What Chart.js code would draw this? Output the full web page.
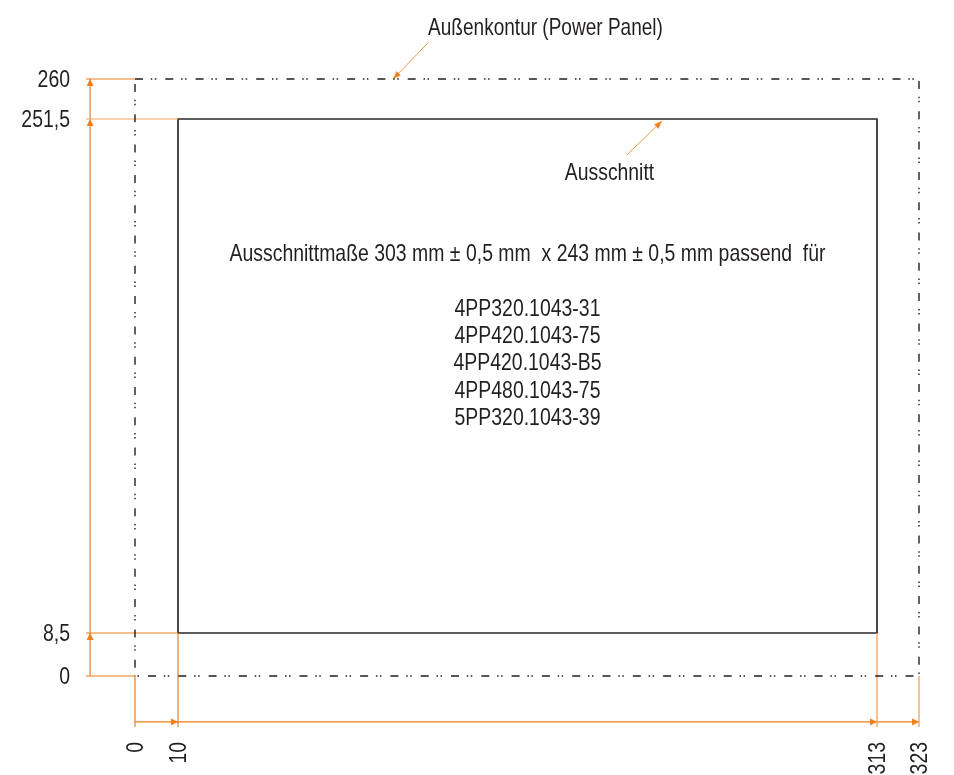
<!DOCTYPE html>
<html>
<head>
<meta charset="utf-8">
<title>Ausschnitt</title>
<script src="https://cdn.jsdelivr.net/npm/chart.js@4"></script>
<style>
  html, body { margin: 0; padding: 0; background: #fff; overflow: hidden; }
  canvas { display: block; }
</style>
</head>
<body>
<canvas id="drawing" width="954" height="775"></canvas>
<script>
// dimensions from the drawing (mm)
var xTicks = [0, 10, 313, 323];
var yTicks = [0, 8.5, 251.5, 260];

var outerTop = [[0, 260], [323, 260]];
var outerLeft = [[0, 260], [0, 0]];
var outerRight = [[323, 260], [323, 0]];
var outerBottom = [[0, 0], [323, 0]];
var cutout = [[10, 8.5], [313, 8.5], [313, 251.5], [10, 251.5], [10, 8.5]];

// dimension lines sit outside the panel
var dimX = -11;
var dimY = -10.8;
var extEnd = -12;

var leaderOuter = [[118.4, 267.7], [103.2, 260]];
var leaderCutout = [[204.6, 234.5], [219.8, 250.6]];

var topLabel = "Außenkontur (Power Panel)";
var cutoutLabel = "Ausschnitt";
var sizeNote = "Ausschnittmaße 303 mm ± 0,5 mm  x 243 mm ± 0,5 mm passend  für";
var partNumbers = ["4PP320.1043-31", "4PP420.1043-75", "4PP420.1043-B5", "4PP480.1043-75", "5PP320.1043-39"];

// the drawing is not to scale, so each axis is a chain of stretches
var xStops = [-12, 0, 10, 313, 323, 337];
var xWeights = [49, 43, 699, 42, 35];
var yStops = [-12, 0, 8.5, 251.5, 260, 276.8];
var yWeights = [51, 43, 514, 40, 79];

var ORANGE = "#ee7f1a";
var PALE = "#f4a765";
var INK = "#231f20";
var FONT = "'Liberation Sans'";
var SQUEEZE = 0.81; // the original face is a narrow Helvetica

class DrawingScale extends Chart.LinearScale {
  getPixelForValue(value) {
    var stops = this.axis === "x" ? xStops : yStops;
    var weights = this.axis === "x" ? xWeights : yWeights;
    var total = weights.reduce(function (a, b) { return a + b; }, 0);
    var done = 0;
    for (var i = 0; i < weights.length; i++) {
      if (value <= stops[i + 1] || i === weights.length - 1) {
        done += weights[i] * (value - stops[i]) / (stops[i + 1] - stops[i]);
        break;
      }
      done += weights[i];
    }
    return this.getPixelForDecimal(done / total);
  }
  // no clip, it would be squeezed along with the labels
  _computeLabelArea() {
    return null;
  }
  // squeeze the labels along their reading direction, anchored where they start
  drawLabels(area) {
    var g = this.ctx;
    g.save();
    if (this.axis === "x") {
      var top = this.top + this.options.ticks.padding;
      g.translate(1, top);
      g.scale(1, SQUEEZE);
      g.translate(0, -top);
    } else {
      var right = this.right - this.options.ticks.padding;
      g.translate(right, 1.5);
      g.scale(SQUEEZE, 1);
      g.translate(-right, 0);
    }
    super.drawLabels(area);
    g.restore();
  }
}
DrawingScale.id = "drawing";
DrawingScale.defaults = Chart.LinearScale.defaults;
Chart.register(DrawingScale);

// arrow head with its tip in the middle of the image, so the point sits on the tip
function arrowHead(w, h) {
  var c = document.createElement("canvas");
  c.width = 2 * Math.ceil(h);
  c.height = 2 * Math.ceil(h);
  var g = c.getContext("2d");
  var mid = c.width / 2;
  g.fillStyle = ORANGE;
  g.beginPath();
  g.moveTo(mid, mid);
  g.lineTo(mid + w / 2, mid + h);
  g.lineTo(mid - w / 2, mid + h);
  g.closePath();
  g.fill();
  return c;
}
var bigHead = arrowHead(7, 7);
var smallHead = arrowHead(6, 8);

function pts(list) {
  return list.map(function (p) { return { x: p[0], y: p[1] }; });
}
function line(list, color, width, dash, offset) {
  return {
    data: pts(list), showLine: true, clip: false, pointRadius: 0, fill: false,
    borderColor: color, borderWidth: width,
    borderDash: dash || [], borderDashOffset: offset || 0, borderCapStyle: "butt"
  };
}
function heads(list, image, rotation) {
  return {
    data: pts(list), showLine: false, clip: false, pointRadius: 4,
    pointStyle: image, pointRotation: rotation
  };
}

var chain = [8, 7.8, 1.5, 2.5, 1.5, 9];

var datasets = [
  line(outerTop, INK, 1.4, chain, 0),
  line(outerLeft, INK, 1.4, chain, 25.3),
  line(outerRight, INK, 1.4, chain, 28.3),
  line(outerBottom, INK, 1.4, chain, 17.3),

  // extension lines
  line([[extEnd, 260], [0, 260]], ORANGE, 1.2),
  line([[extEnd, 251.5], [10, 251.5]], PALE, 1.2),
  line([[extEnd, 8.5], [10, 8.5]], ORANGE, 1.2),
  line([[extEnd, 0], [0, 0]], ORANGE, 1.2),
  line([[0, 0], [0, extEnd]], ORANGE, 1.2),
  line([[10, 8.5], [10, extEnd]], ORANGE, 1.2),
  line([[313, 8.5], [313, extEnd]], PALE, 1.4),
  line([[323, 0], [323, extEnd]], PALE, 1.4),

  // dimension lines
  line([[dimX, 0], [dimX, 260]], ORANGE, 1.2),
  line([[0, dimY], [323, dimY]], ORANGE, 1.2),
  heads(yTicks.slice(1).map(function (v) { return [dimX, v]; }), bigHead, 0),
  heads(xTicks.slice(1).map(function (v) { return [v, dimY]; }), bigHead, 90),

  // leaders
  line(leaderOuter, ORANGE, 0.8),
  line(leaderCutout, ORANGE, 0.8),
  heads(leaderOuter.slice(1), smallHead, 225),
  heads(leaderCutout.slice(1), smallHead, 45),

  line(cutout, "#2b2a29", 1.7)
];

var notes = {
  id: "notes",
  afterDatasetsDraw: function (chart) {
    var g = chart.ctx;
    var mid = chart.scales.x.getPixelForValue(161.5);
    function put(text, x, y, squeeze) {
      g.save();
      g.font = "24px " + FONT;
      g.fillStyle = INK;
      g.textAlign = "center";
      g.textBaseline = "middle";
      g.translate(x, y);
      g.scale(squeeze, 1);
      g.fillText(text, 0, 0);
      g.restore();
    }
    put(topLabel, 545.5, 28, 0.793);
    put(cutoutLabel, 609.5, 173, 0.807);
    put(sizeNote, mid, 254, SQUEEZE);
    partNumbers.forEach(function (p, i) {
      put(p, mid, 309 + i * 27.4, SQUEEZE);
    });
  }
};

// rotated tick labels ask for margins that would squeeze the chart area
function noMargins(s) {
  s.paddingLeft = s.paddingRight = s.paddingTop = s.paddingBottom = 0;
}

new Chart(document.getElementById("drawing").getContext("2d"), {
  type: "scatter",
  data: { datasets: datasets },
  plugins: [notes],
  options: {
    responsive: false,
    animation: false,
    events: [],
    layout: { padding: 0, autoPadding: false },
    plugins: { legend: { display: false }, tooltip: { enabled: false } },
    scales: {
      x: {
        type: "drawing", min: -12, max: 337, position: "bottom",
        grid: { display: false, drawTicks: false }, border: { display: false },
        afterBuildTicks: function (s) { s.ticks = xTicks.map(function (v) { return { value: v }; }); },
        afterFit: function (s) { s.height = 48; noMargins(s); },
        ticks: {
          autoSkip: false, minRotation: 90, maxRotation: 90, padding: 15, color: INK,
          font: { family: FONT, size: 24 },
          callback: function (v) { return String(v); }
        }
      },
      y: {
        type: "drawing", min: -12, max: 276.8, position: "left",
        grid: { display: false, drawTicks: false }, border: { display: false },
        afterBuildTicks: function (s) { s.ticks = yTicks.map(function (v) { return { value: v }; }); },
        afterFit: function (s) { s.width = 86; noMargins(s); },
        ticks: {
          autoSkip: false, padding: 16, color: INK,
          font: { family: FONT, size: 24 },
          callback: function (v) { return String(v).replace(".", ","); }
        }
      }
    }
  }
});
</script>
</body>
</html>
